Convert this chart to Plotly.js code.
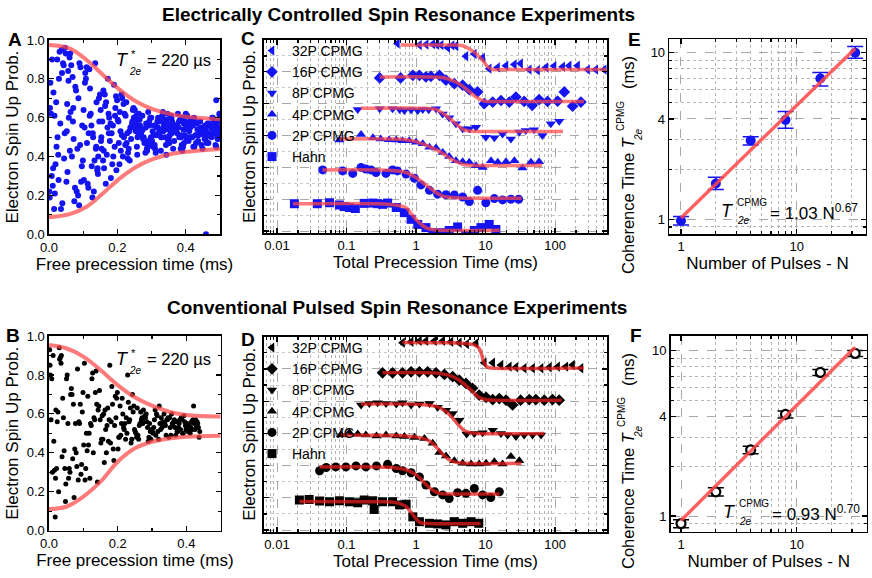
<!DOCTYPE html>
<html>
<head>
<meta charset="utf-8">
<script src="https://cdn.plot.ly/plotly-3.0.1.min.js"></script>
<style>
  html, body { margin: 0; padding: 0; background: #fff; }
  #chart { width: 872px; height: 578px; }
</style>
</head>
<body>
<div id="chart"></div>
<script>
// ---------- panel A: Ramsey data (electrical control) ----------
var aTime = [0.031,0.003,0.044,0.017,0.009,0.038,0.022,0.002,0.047,0.013,0.028,0.035,0.006,0.041,0.019,0.025,0.011,0.049,0.004,0.033,0.015,0.027,0.043,0.008,0.021,0.037,0.001,0.046,0.029,0.012,0.039,0.024,0.016,
  0.083,0.056,0.094,0.071,0.062,0.088,0.052,0.077,0.099,0.065,0.081,0.058,0.091,0.069,0.054,0.086,0.074,0.060,0.097,0.067,0.079,0.051,0.092,0.072,0.063,0.085,0.057,0.096,0.070,0.089,0.061,0.076,0.053,
  0.118,0.141,0.104,0.127,0.149,0.111,0.135,0.102,0.122,0.144,0.108,0.131,0.116,0.139,0.125,0.106,0.147,0.113,0.137,0.120,0.101,0.143,0.129,0.110,0.133,0.146,0.115,0.124,0.105,0.138,0.119,0.142,0.128,
  0.163,0.181,0.152,0.194,0.172,0.158,0.187,0.166,0.199,0.154,0.176,0.190,0.161,0.183,0.151,0.169,0.196,0.178,0.156,0.185,0.164,0.192,0.171,0.159,0.188,0.174,0.153,0.197,0.167,0.180,0.160,0.193,0.175,
  0.214,0.236,0.203,0.227,0.245,0.209,0.231,0.218,0.249,0.206,0.224,0.240,0.212,0.233,0.201,0.229,0.247,0.216,0.238,0.221,0.204,0.243,0.226,0.210,0.235,0.248,0.219,0.230,0.207,0.241,0.223,0.244,0.213,
  0.263,0.289,0.252,0.277,0.296,0.258,0.284,0.269,0.251,0.292,0.274,0.260,0.287,0.266,0.298,0.255,0.280,0.271,0.293,0.257,0.283,0.262,0.290,0.275,0.253,0.286,0.268,0.299,0.259,0.279,0.294,0.265,0.282,0.254,0.273,0.291,0.261,
  0.317,0.342,0.303,0.329,0.346,0.310,0.336,0.321,0.301,0.344,0.325,0.312,0.338,0.306,0.331,0.348,0.315,0.340,0.323,0.304,0.334,0.319,0.347,0.308,0.327,0.341,0.313,0.333,0.300,0.345,0.322,0.309,0.337,0.318,0.328,0.343,0.311,
  0.368,0.391,0.352,0.379,0.397,0.360,0.385,0.371,0.350,0.394,0.375,0.357,0.388,0.364,0.381,0.398,0.355,0.390,0.373,0.353,0.383,0.366,0.396,0.359,0.377,0.392,0.362,0.386,0.351,0.395,0.370,0.358,0.387,0.374,0.363,0.393,0.380,
  0.419,0.443,0.404,0.430,0.447,0.411,0.437,0.422,0.401,0.445,0.426,0.408,0.440,0.415,0.432,0.449,0.406,0.441,0.424,0.402,0.434,0.417,0.446,0.410,0.428,0.442,0.413,0.436,0.400,0.448,0.421,0.409,0.438,0.425,0.414,0.444,0.431,
  0.468,0.493,0.452,0.479,0.497,0.461,0.486,0.459,0.450,0.495,0.475,0.457,0.489,0.464,0.481,0.499,0.455,0.491,0.473,0.453,0.483,0.466,0.496,0.460,0.477,0.492,0.463,0.487,0.451,0.494,0.471,0.458,0.488,0.474,0.465,0.498,0.480,0.456,0.489];
var aProb = [0.94,0.65,0.39,0.21,0.90,0.83,0.45,0.19,0.96,0.73,0.28,0.13,0.62,0.88,0.36,0.50,0.25,0.93,0.78,0.57,0.13,0.41,0.87,0.30,0.68,0.95,0.22,0.52,0.80,0.34,0.16,0.90,0.61,
  0.44,0.84,0.27,0.65,0.93,0.15,0.53,0.76,0.38,0.87,0.22,0.60,0.46,0.81,0.32,0.70,0.17,0.91,0.56,0.40,0.74,0.27,0.86,0.49,0.63,0.20,0.79,0.35,0.58,0.88,0.43,0.24,0.67,
  0.85,0.33,0.55,0.19,0.72,0.47,0.88,0.28,0.62,0.40,0.80,0.22,0.52,0.68,0.35,0.83,0.58,0.26,0.44,0.75,0.64,0.31,0.50,0.86,0.38,0.70,0.24,0.56,0.78,0.45,0.61,0.34,0.52,
  0.72,0.29,0.48,0.65,0.80,0.38,0.56,0.26,0.69,0.44,0.60,0.77,0.34,0.52,0.64,0.41,0.71,0.48,0.58,0.36,0.66,0.45,0.55,0.74,0.40,0.62,0.50,0.33,0.68,0.57,0.43,0.61,0.52,
  0.70,0.38,0.58,0.47,0.64,0.53,0.42,0.67,0.56,0.36,0.61,0.49,0.72,0.44,0.59,0.52,0.65,0.40,0.55,0.62,0.47,0.57,0.68,0.43,0.53,0.60,0.50,0.39,0.63,0.55,0.46,0.58,0.51,
  0.62,0.45,0.55,0.50,0.60,0.41,0.57,0.52,0.64,0.47,0.54,0.59,0.43,0.56,0.50,0.61,0.48,0.53,0.58,0.45,0.55,0.51,0.63,0.49,0.57,0.44,0.54,0.60,0.50,0.47,0.56,0.59,0.42,0.53,0.61,0.48,0.55,
  0.58,0.46,0.53,0.50,0.62,0.44,0.56,0.52,0.48,0.59,0.54,0.42,0.57,0.51,0.61,0.47,0.55,0.50,0.58,0.45,0.53,0.60,0.49,0.56,0.43,0.54,0.51,0.63,0.48,0.57,0.52,0.46,0.59,0.55,0.50,0.41,0.56,
  0.53,0.60,0.47,0.55,0.51,0.58,0.44,0.54,0.49,0.57,0.52,0.61,0.46,0.55,0.50,0.58,0.53,0.43,0.56,0.51,0.59,0.48,0.54,0.52,0.62,0.45,0.57,0.50,0.55,0.47,0.53,0.60,0.51,0.56,0.44,0.54,0.58,
  0.50,0.55,0.61,0.47,0.53,0.57,0.51,0.45,0.56,0.52,0.59,0.48,0.54,0.50,0.57,0.44,0.55,0.52,0.60,0.49,0.54,0.57,0.46,0.53,0.51,0.58,0.55,0.48,0.62,0.52,0.56,0.50,0.54,0.45,0.59,0.53,0.51,
  0.57,0.49,0.54,0.60,0.52,0.47,0.56,0.00,0.53,0.58,0.50,0.55,0.45,0.57,0.52,0.61,0.49,0.54,0.56,0.51,0.58,0.47,0.55,0.53,0.60,0.50,0.56,0.46,0.54,0.58,0.52,0.49,0.57,0.55,0.51,0.62,0.53,0.56,0.69];
var aFitTime = [0, 0.06, 0.11, 0.158, 0.207, 0.256, 0.305, 0.354, 0.403, 0.5];
var aUpper = [0.974, 0.957, 0.897, 0.82, 0.743, 0.682, 0.643, 0.619, 0.605, 0.592];
var aLower = [0.088, 0.104, 0.142, 0.211, 0.288, 0.348, 0.388, 0.412, 0.425, 0.439];

// ---------- panel B: Ramsey data (conventional) ----------
var bTime = [0.002,0.003,0.004,0.006,0.008,0.010,0.012,0.014,0.016,0.018,0.019,0.020,0.022,0.024,0.026,0.028,0.030,0.031,0.033,0.035,0.036,0.038,0.040,0.042,0.044,0.046,0.048,0.049,
  0.073,0.055,0.091,0.063,0.081,0.051,0.097,0.067,0.085,0.059,0.077,0.093,0.053,0.069,0.087,0.061,0.099,0.075,0.057,0.083,0.065,0.095,0.071,0.089,0.079,
  0.127,0.105,0.141,0.113,0.133,0.101,0.147,0.119,0.137,0.109,0.125,0.143,0.103,0.121,0.139,0.115,0.149,0.129,0.107,0.135,0.117,0.145,0.123,0.111,0.131,
  0.177,0.157,0.191,0.163,0.183,0.151,0.197,0.169,0.187,0.159,0.175,0.193,0.153,0.171,0.189,0.165,0.199,0.179,0.155,0.185,0.167,0.195,0.173,0.161,0.181,
  0.229,0.207,0.241,0.213,0.233,0.201,0.247,0.219,0.237,0.209,0.225,0.243,0.203,0.221,0.239,0.215,0.249,0.231,0.205,0.235,0.217,0.245,0.223,0.211,0.227,
  0.277,0.257,0.291,0.263,0.283,0.251,0.297,0.269,0.287,0.259,0.275,0.293,0.253,0.271,0.289,0.265,0.299,0.279,0.255,0.285,0.267,0.295,0.273,0.261,0.281,
  0.329,0.307,0.341,0.313,0.333,0.301,0.347,0.319,0.337,0.309,0.325,0.343,0.303,0.321,0.339,0.315,0.349,0.331,0.305,0.335,0.317,0.345,0.323,0.311,0.327,
  0.377,0.357,0.391,0.363,0.383,0.351,0.397,0.369,0.387,0.359,0.375,0.393,0.353,0.371,0.389,0.365,0.399,0.379,0.355,0.385,0.367,0.395,0.373,0.361,0.381,
  0.421,0.407,0.433,0.411,0.427,0.401,0.437,0.415,0.429,0.405,0.419,0.435,0.403,0.417,0.431,0.409,0.439,0.423,0.413,0.425];
var bProb = [0.93,0.85,0.80,0.57,0.78,0.30,0.90,0.46,0.31,0.07,0.27,0.62,0.32,0.56,0.61,0.20,0.94,0.88,0.89,0.86,0.90,0.38,0.68,0.58,0.41,0.32,0.15,0.24,
  0.17,0.55,0.65,0.70,0.33,0.78,0.61,0.70,0.26,0.32,0.55,0.29,0.80,0.37,0.56,0.30,0.71,0.42,0.27,0.83,0.73,0.34,0.65,0.55,0.40,
  0.81,0.26,0.25,0.69,0.57,0.44,0.72,0.27,0.82,0.50,0.78,0.62,0.86,0.55,0.65,0.44,0.57,0.40,0.32,0.71,0.50,0.64,0.54,0.41,0.58,
  0.85,0.47,0.54,0.62,0.74,0.45,0.68,0.54,0.42,0.60,0.57,0.69,0.47,0.63,0.36,0.52,0.71,0.45,0.59,0.65,0.40,0.58,0.46,0.35,0.56,
  0.80,0.64,0.47,0.68,0.56,0.42,0.64,0.52,0.63,0.49,0.58,0.70,0.48,0.55,0.45,0.60,0.52,0.66,0.48,0.57,0.53,0.61,0.47,0.55,0.50,
  0.56,0.63,0.48,0.54,0.60,0.51,0.47,0.57,0.53,0.49,0.62,0.55,0.50,0.58,0.46,0.55,0.52,0.59,0.48,0.56,0.61,0.51,0.55,0.47,0.58,
  0.53,0.57,0.49,0.60,0.54,0.51,0.58,0.47,0.55,0.62,0.52,0.57,0.50,0.64,0.54,0.59,0.48,0.56,0.53,0.60,0.51,0.57,0.55,0.49,0.58,
  0.53,0.60,0.50,0.56,0.52,0.58,0.54,0.49,0.57,0.55,0.51,0.59,0.53,0.56,0.50,0.57,0.52,0.55,0.49,0.58,0.53,0.56,0.51,0.54,0.57,
  0.64,0.52,0.55,0.50,0.57,0.53,0.48,0.56,0.54,0.51,0.57,0.53,0.55,0.52,0.56,0.54,0.51,0.55,0.53,0.52];
var bFitTime = [0, 0.05, 0.1, 0.15, 0.2, 0.25, 0.3, 0.35, 0.4, 0.5];
var bUpper = [0.954, 0.937, 0.894, 0.825, 0.748, 0.685, 0.642, 0.611, 0.594, 0.586];
var bLower = [0.111, 0.123, 0.175, 0.252, 0.354, 0.423, 0.457, 0.474, 0.483, 0.488];

// ---------- panel C: CPMG decays (electrical), offset vertically ----------
var cNames = ['32P CPMG', '16P CPMG', '8P CPMG', '4P CPMG', '2P CPMG', 'Hahn'];
var cSymbols = ['triangle-left', 'diamond', 'triangle-down', 'triangle-up', 'circle', 'square'];
var c32T = [0.54,1.12,1.4,1.74,2.0,2.3,2.86,3.3,3.76,5.23,6.9,9.1,11.3,14.9,19.7,26,32,42.6,56,74,97,129,160,211,294,386,510];
var c32Y = [5.89,5.84,5.86,5.87,5.85,5.84,5.76,5.83,5.81,5.49,5.56,5.44,5.1,5.14,5.19,5.23,5.26,5.07,5.05,5.14,5.18,5.16,5.19,5.19,5.07,5.07,5.07];
var c16T = [0.3,0.6,0.9,1.12,1.39,1.64,2.17,2.7,3.56,4.69,5.85,7.7,9.6,12.7,16.7,22,27.4,36,47,59,78,109,136,179,236];
var c16Y = [4.81,4.81,4.89,4.89,4.84,4.86,4.89,4.74,4.63,4.58,4.44,4.37,4.0,4.05,4.1,4.05,4.21,4.07,3.95,4.13,4.07,4.08,4.37,3.92,4.05];
var c8T = [0.145,0.3,0.46,0.58,0.68,0.85,1.06,1.25,1.52,1.94,2.42,3.0,3.76,4.69,5.85,7.3,10.1,13.4,17.6,23.2,30.6,38,50,66,87,115];
var c8Y = [3.82,3.84,3.84,3.82,3.79,3.81,3.79,3.82,3.81,3.84,3.68,3.56,3.37,3.21,3.21,3.26,2.95,2.93,3.05,2.89,3.11,3.16,3.18,3.0,3.37,3.45];
var c4T = [0.079,0.162,0.24,0.31,0.41,0.52,0.64,0.8,1.0,1.25,1.56,1.94,2.42,3.0,3.76,4.69,5.85,7.3,9.1,12,15,19.7,26,34,45,59];
var c4Y = [2.86,3.03,2.93,2.89,2.87,2.86,2.84,2.84,2.79,2.74,2.63,2.61,2.47,2.34,2.21,2.18,2.16,2.05,2.0,2.21,2.16,2.18,2.21,1.98,2.16,2.18];
var c2T = [0.0455,0.088,0.123,0.162,0.19,0.225,0.266,0.37,0.46,0.54,0.72,0.95,1.18,1.56,2.05,2.7,3.56,4.7,5.85,7.7,10.1,13.4,17.6,23.2,30];
var c2Y = [1.92,1.89,1.81,2.0,1.95,1.92,1.84,1.81,1.92,1.89,1.79,1.66,1.45,1.28,1.16,1.14,1.13,1.07,0.93,1.28,0.89,1.02,0.98,1.0,1.0];
var cHahnT = [0.0178,0.038,0.057,0.079,0.093,0.11,0.134,0.18,0.24,0.28,0.33,0.39,0.52,0.68,0.85,1.06,1.39,1.74,2.29,3.0,3.97,5.2,6.9,8.6,11.3,14.1];
var cHahnY = [0.86,0.86,0.89,0.82,0.77,0.74,0.71,0.87,0.88,0.86,0.84,0.88,0.74,0.58,0.37,0.21,0.11,-0.05,-0.05,0.02,0.13,-0.13,0.02,0.11,0.21,0.05];
// fitted curves
var cFit32T = [0.6,3,4.69,6.5,8.6,10.8,12.7,16,550];
var cFit32Y = [5.84,5.84,5.82,5.66,5.42,5.16,5.07,5.07,5.07];
var cFit16T = [0.3,1.5,2.42,3.76,5.23,7.3,9.6,12,260];
var cFit16Y = [4.84,4.84,4.82,4.68,4.47,4.21,4.08,4.07,4.07];
var cFit8T = [0.16,1.2,1.94,2.7,3.76,4.69,5.85,8,130];
var cFit8Y = [3.86,3.86,3.82,3.63,3.37,3.2,3.14,3.13,3.13];
var cFit4T = [0.08,0.6,1.0,1.56,2.42,3.37,4.69,6,65];
var cFit4Y = [2.89,2.88,2.81,2.65,2.44,2.23,2.1,2.07,2.07];
var cFit2T = [0.045,0.4,0.72,1.0,1.39,1.94,2.42,3.76,33];
var cFit2Y = [1.92,1.91,1.84,1.68,1.45,1.21,1.1,1.05,1.03];
var cFitHahnT = [0.017,0.3,0.5,0.72,0.85,1.0,1.2,1.4,1.8,16];
var cFitHahnY = [0.86,0.86,0.82,0.74,0.55,0.37,0.2,0.1,0.04,0.03];

// ---------- panel D: CPMG decays (conventional) ----------
var d32T = [0.64,0.85,1.12,1.39,1.84,2.42,3.18,4.2,5.35,7.3,9.6,12.7,16.7,22,27.4,36,47.5,63,83,109,143,179,236];
var d32Y = [5.81,5.84,5.87,5.87,5.87,5.87,5.84,5.81,5.77,5.79,5.19,5.19,5.12,5.07,5.05,5.02,5.02,5.02,5.05,5.07,5.07,5.12,5.02];
var d16T = [0.33,0.46,0.64,0.85,1.12,1.47,1.94,2.56,3.37,4.2,5.23,6.5,8.1,10.2,12.7,15.8,19.7,24.5,32,42.6,53,70,92,115];
var d16Y = [4.88,4.88,4.88,4.91,4.91,4.91,4.88,4.83,4.76,4.65,4.55,4.4,4.19,4.12,4.05,4.08,4.03,3.88,4.03,4.05,4.05,4.03,4.05,4.03];
var d8T = [0.162,0.213,0.28,0.37,0.52,0.64,0.85,1.12,1.56,2.05,2.7,3.37,4.2,5.35,6.9,9.1,12.7,16.7,20.8,27.4,36,47.5,63];
var d8Y = [3.88,3.93,3.95,3.93,3.91,3.95,3.88,3.91,3.93,3.81,3.72,3.62,3.41,2.98,3.0,3.02,3.1,3.0,2.95,2.9,2.95,2.95,2.95];
var d4T = [0.083,0.11,0.145,0.19,0.27,0.37,0.52,0.68,0.95,1.32,1.74,2.17,2.7,3.56,4.69,6.2,8.1,10.2,13.4,17.6,23.2,30.6];
var d4Y = [2.95,3.02,2.98,2.95,2.92,2.95,2.92,2.9,2.87,2.84,2.69,2.41,2.3,2.15,2.07,2.05,2.05,2.07,2.12,2.05,2.28,2.15];
var d2T = [0.041,0.051,0.07,0.098,0.137,0.19,0.27,0.39,0.52,0.64,0.85,1.12,1.39,1.84,2.42,3.0,3.97,5.23,6.9,9.1,11.9,15.8];
var d2Y = [1.84,1.94,1.96,1.96,1.99,1.96,1.99,2.04,1.91,1.84,1.78,1.65,1.4,1.19,1.09,0.98,1.16,1.14,1.29,1.09,1.01,1.19];
var dHahnT = [0.021,0.029,0.041,0.057,0.079,0.11,0.145,0.18,0.238,0.25,0.33,0.46,0.58,0.72,0.9,1.12,1.56,2.05,2.7,3.56,4.69,6.2,8];
var dHahnY = [0.93,0.95,0.9,0.88,0.91,0.88,0.85,0.93,0.91,0.64,0.88,0.88,0.78,0.8,0.41,0.26,0.21,0.19,0.16,0.26,0.21,0.26,0.21];
var dFit32T = [0.64,3.0,5.0,7.0,8.0,8.8,9.5,10.5,12,260];
var dFit32Y = [5.82,5.81,5.79,5.74,5.65,5.45,5.2,5.06,5.03,5.03];
var dFit16T = [0.33,2.0,3.0,4.0,5.0,6.5,8.0,10,13,125];
var dFit16Y = [4.88,4.87,4.8,4.68,4.52,4.3,4.12,4.05,4.03,4.03];
var dFit8T = [0.162,1.2,2.0,2.7,3.3,4.0,5.0,6.5,70];
var dFit8Y = [3.91,3.9,3.83,3.68,3.5,3.28,3.08,3.01,3.0];
var dFit4T = [0.083,0.7,1.2,1.6,2.0,2.5,3.2,4.5,33];
var dFit4Y = [2.95,2.92,2.86,2.75,2.55,2.32,2.15,2.08,2.07];
var dFit2T = [0.041,0.4,0.7,1.0,1.3,1.7,2.2,3,16];
var dFit2Y = [1.96,1.95,1.88,1.72,1.48,1.25,1.14,1.12,1.12];
var dFitHahnT = [0.021,0.3,0.5,0.7,0.85,1.0,1.15,1.5,8.5];
var dFitHahnY = [0.89,0.88,0.86,0.75,0.55,0.35,0.23,0.2,0.2];

// ---------- panels E, F: coherence time vs number of pulses ----------
var pulses = [1, 2, 4, 8, 16, 32];
var eT2 = [0.98, 1.64, 2.97, 3.94, 7.0, 10.0];
var eErrPlus = [0.06, 0.15, 0.16, 0.49, 0.59, 0.87];
var eErrMinus = [0.055, 0.13, 0.18, 0.42, 0.69, 0.75];
var eFitN = [1, 32];
var eFitT2 = [1.02, 10.6];
var fT2 = [0.90, 1.40, 2.51, 4.12, 7.39, 9.63];
var fErr = [0.05, 0.08, 0.13, 0.2, 0.3, 0.4];
var fFitN = [1, 32];
var fFitT2 = [0.94, 10.5];

// ---------- helpers ----------
var W = 872, H = 578;
function px(x) { return x / W; }
function py(y) { return 1 - y / H; }
var FONT = 'Liberation Sans, Arial, Helvetica, sans-serif';
var BLUE = '#1414f0';
var RED = 'rgba(255,70,70,0.72)';

// minor ticks for log axes (2..9 in each decade)
function logMinor(lo, hi) {
  var v = [];
  for (var e = lo; e <= hi; e++) {
    for (var k = 2; k <= 9; k++) v.push(k * Math.pow(10, e));
  }
  return v;
}

function axis(extra) {
  var base = {
    showline: true, linecolor: 'black', linewidth: 1.6, mirror: 'allticks',
    ticks: 'inside', ticklen: 5, tickwidth: 1.2, tickcolor: 'black',
    showgrid: false, zeroline: false,
    tickfont: {family: FONT, size: 13, color: 'black'}
  };
  for (var k in extra) base[k] = extra[k];
  return base;
}
function ttl(text, size, standoff) {
  return {text: text, font: {family: FONT, size: size, color: 'black'}, standoff: standoff};
}

var data = [];

// A
data.push({x: aTime, y: aProb, xaxis: 'x', yaxis: 'y', mode: 'markers', type: 'scatter', showlegend: false,
  marker: {color: BLUE, size: 6}});
data.push({x: aFitTime, y: aUpper, xaxis: 'x', yaxis: 'y', mode: 'lines', showlegend: false,
  line: {color: RED, width: 4, shape: 'spline'}});
data.push({x: aFitTime, y: aLower, xaxis: 'x', yaxis: 'y', mode: 'lines', showlegend: false,
  line: {color: RED, width: 4, shape: 'spline'}});

// B
data.push({x: bTime, y: bProb, xaxis: 'x4', yaxis: 'y4', mode: 'markers', showlegend: false,
  marker: {color: 'black', size: 5}});
data.push({x: bFitTime, y: bUpper, xaxis: 'x4', yaxis: 'y4', mode: 'lines', showlegend: false,
  line: {color: RED, width: 4, shape: 'spline'}});
data.push({x: bFitTime, y: bLower, xaxis: 'x4', yaxis: 'y4', mode: 'lines', showlegend: false,
  line: {color: RED, width: 4, shape: 'spline'}});

// C and D
var cPts = [[c32T, c32Y], [c16T, c16Y], [c8T, c8Y], [c4T, c4Y], [c2T, c2Y], [cHahnT, cHahnY]];
var cFits = [[cFit32T, cFit32Y], [cFit16T, cFit16Y], [cFit8T, cFit8Y], [cFit4T, cFit4Y], [cFit2T, cFit2Y], [cFitHahnT, cFitHahnY]];
var dPts = [[d32T, d32Y], [d16T, d16Y], [d8T, d8Y], [d4T, d4Y], [d2T, d2Y], [dHahnT, dHahnY]];
var dFits = [[dFit32T, dFit32Y], [dFit16T, dFit16Y], [dFit8T, dFit8Y], [dFit4T, dFit4Y], [dFit2T, dFit2Y], [dFitHahnT, dFitHahnY]];

for (var i = 0; i < cNames.length; i++) {
  data.push({x: cPts[i][0], y: cPts[i][1], xaxis: 'x2', yaxis: 'y2', mode: 'markers', name: cNames[i],
    legend: 'legend', marker: {color: BLUE, symbol: cSymbols[i], size: 9}});
}
for (var i = 0; i < cNames.length; i++) {
  data.push({x: cFits[i][0], y: cFits[i][1], xaxis: 'x2', yaxis: 'y2', mode: 'lines', showlegend: false,
    line: {color: RED, width: 3.5, shape: 'spline', smoothing: 0.8}});
}
for (var i = 0; i < cNames.length; i++) {
  data.push({x: dPts[i][0], y: dPts[i][1], xaxis: 'x5', yaxis: 'y5', mode: 'markers', name: cNames[i],
    legend: 'legend2', marker: {color: 'black', symbol: cSymbols[i], size: 9}});
}
for (var i = 0; i < cNames.length; i++) {
  data.push({x: dFits[i][0], y: dFits[i][1], xaxis: 'x5', yaxis: 'y5', mode: 'lines', showlegend: false,
    line: {color: 'rgba(230,30,30,0.75)', width: 3.5, shape: 'spline', smoothing: 0.8}});
}

// E
data.push({x: pulses, y: eT2, xaxis: 'x3', yaxis: 'y3', mode: 'markers', showlegend: false,
  marker: {color: BLUE, size: 10},
  error_y: {type: 'data', array: eErrPlus, arrayminus: eErrMinus, color: BLUE, thickness: 1.5, width: 8}});
data.push({x: eFitN, y: eFitT2, xaxis: 'x3', yaxis: 'y3', mode: 'lines', showlegend: false,
  line: {color: 'rgba(255,70,70,0.85)', width: 3.5}});

// F
data.push({x: pulses, y: fT2, xaxis: 'x6', yaxis: 'y6', mode: 'markers', showlegend: false,
  marker: {color: 'white', size: 9, line: {color: 'black', width: 2.2}},
  error_y: {type: 'data', array: fErr, color: 'black', thickness: 1.5, width: 8}});
data.push({x: fFitN, y: fFitT2, xaxis: 'x6', yaxis: 'y6', mode: 'lines', showlegend: false,
  line: {color: 'rgba(255,70,70,0.85)', width: 3.5}});

// grids for log panels
var minorGrid = {ticks: 'inside', ticklen: 3, tickcolor: 'black', showgrid: true, gridcolor: '#b5b5b5', griddash: 'dot', gridwidth: 1};
function withVals(o, vals) { var r = {tickmode: 'array', tickvals: vals}; for (var k in o) r[k] = o[k]; return r; }

var decadeVals = [0.01, 0.1, 1, 10, 100];
var decadeText = ['0.01', '0.1', '1', '10', '100'];

var layout = {
  width: W, height: H,
  margin: {l: 0, r: 0, t: 0, b: 0},
  paper_bgcolor: 'white', plot_bgcolor: 'white',
  font: {family: FONT, color: 'black'},
  // A
  xaxis: axis({domain: [px(49), px(220)], anchor: 'y', range: [0, 0.5], tickvals: [0, 0.2, 0.4], ticktext: ['0.0', '0.2', '0.4'],
    minor: {dtick: 0.1, ticks: 'inside', ticklen: 3, tickcolor: 'black'},
    title: ttl('Free precession time (ms)', 17, 4)}),
  yaxis: axis({domain: [py(234.3), py(40)], anchor: 'x', range: [0, 1], dtick: 0.2, tickformat: '.1f',
    minor: {dtick: 0.1, ticks: 'inside', ticklen: 3, tickcolor: 'black'},
    title: ttl('Electron Spin Up Prob.', 17, 4)}),
  // C
  xaxis2: axis({domain: [px(264), px(607)], anchor: 'y2', type: 'log', range: [-2.187, 2.748],
    tickvals: decadeVals, ticktext: decadeText,
    showgrid: true, gridcolor: '#a8a8a8', griddash: 'dash',
    minor: withVals(minorGrid, logMinor(-3, 2)),
    title: ttl('Total Precession Time (ms)', 17, 4)}),
  yaxis2: axis({domain: [py(233), py(40)], anchor: 'x2', range: [-0.06, 6], dtick: 1, showticklabels: false,
    showgrid: true, gridcolor: '#a8a8a8', griddash: 'dash',
    minor: {dtick: 0.5, ticks: 'inside', ticklen: 3, tickcolor: 'black', showgrid: true, gridcolor: '#c8c8c8', griddash: 'dot'},
    title: ttl('Electron Spin Up Prob.', 17, 2)}),
  // E
  xaxis3: axis({domain: [px(669.3), px(865.7)], anchor: 'y3', type: 'log', range: [-0.101, 1.596],
    tickvals: [1, 10], ticktext: ['1', '10'],
    showgrid: true, gridcolor: '#a8a8a8', griddash: 'dash',
    minor: withVals(minorGrid, [2, 3, 4, 5, 6, 7, 8, 9, 20, 30]),
    title: ttl('Number of Pulses - N', 17, 4)}),
  yaxis3: axis({domain: [py(234), py(39.3)], anchor: 'x3', type: 'log', range: [-0.088, 1.08],
    tickvals: [1, 4, 10], ticktext: ['1', '4', '10'],
    showgrid: true, gridcolor: '#a8a8a8', griddash: 'dash',
    minor: withVals(minorGrid, [0.9, 2, 3, 5, 6, 7, 8, 9])}),
  // B
  xaxis4: axis({domain: [px(49), px(220.7)], anchor: 'y4', range: [0, 0.5], tickvals: [0, 0.2, 0.4], ticktext: ['0.0', '0.2', '0.4'],
    minor: {dtick: 0.1, ticks: 'inside', ticklen: 3, tickcolor: 'black'},
    title: ttl('Free precession time (ms)', 17, 4)}),
  yaxis4: axis({domain: [py(530.7), py(336)], anchor: 'x4', range: [0, 1], dtick: 0.2, tickformat: '.1f',
    minor: {dtick: 0.1, ticks: 'inside', ticklen: 3, tickcolor: 'black'},
    title: ttl('Electron Spin Up Prob.', 17, 4)}),
  // D
  xaxis5: axis({domain: [px(264), px(607)], anchor: 'y5', type: 'log', range: [-2.187, 2.748],
    tickvals: decadeVals, ticktext: decadeText,
    showgrid: true, gridcolor: '#a8a8a8', griddash: 'dash',
    minor: withVals(minorGrid, logMinor(-3, 2)),
    title: ttl('Total Precession Time (ms)', 17, 4)}),
  yaxis5: axis({domain: [py(532), py(336.7)], anchor: 'x5', range: [-0.06, 6], dtick: 1, showticklabels: false,
    showgrid: true, gridcolor: '#a8a8a8', griddash: 'dash',
    minor: {dtick: 0.5, ticks: 'inside', ticklen: 3, tickcolor: 'black', showgrid: true, gridcolor: '#c8c8c8', griddash: 'dot'},
    title: ttl('Electron Spin Up Prob.', 17, 2)}),
  // F
  xaxis6: axis({domain: [px(670.7), px(866.7)], anchor: 'y6', type: 'log', range: [-0.089, 1.605],
    tickvals: [1, 10], ticktext: ['1', '10'],
    showgrid: true, gridcolor: '#a8a8a8', griddash: 'dash',
    minor: withVals(minorGrid, [2, 3, 4, 5, 6, 7, 8, 9, 20, 30]),
    title: ttl('Number of Pulses - N', 17, 4)}),
  yaxis6: axis({domain: [py(531.7), py(336)], anchor: 'x6', type: 'log', range: [-0.095, 1.089],
    tickvals: [1, 4, 10], ticktext: ['1', '4', '10'],
    showgrid: true, gridcolor: '#a8a8a8', griddash: 'dash',
    minor: withVals(minorGrid, [0.9, 2, 3, 5, 6, 7, 8, 9])}),
  legend: {x: px(252), y: py(35), xanchor: 'left', yanchor: 'top', bgcolor: 'rgba(0,0,0,0)',
    font: {family: FONT, size: 14, color: 'black'}, itemwidth: 30, tracegroupgap: 0},
  legend2: {x: px(252), y: py(332), xanchor: 'left', yanchor: 'top', bgcolor: 'rgba(0,0,0,0)',
    font: {family: FONT, size: 14, color: 'black'}, itemwidth: 30, tracegroupgap: 0},
  annotations: []
};

function note(x, y, text, size, anchor, angle) {
  layout.annotations.push({xref: 'paper', yref: 'paper', x: px(x), y: py(y), text: text, showarrow: false,
    xanchor: anchor || 'center', yanchor: 'middle', textangle: angle || 0,
    font: {family: FONT, size: size, color: 'black'}});
}

// headings and panel letters
note(398, 14, '<b>Electrically Controlled Spin Resonance Experiments</b>', 19);
note(397, 308, '<b>Conventional Pulsed Spin Resonance Experiments</b>', 19);
note(15, 39, '<b>A</b>', 19); note(248, 38, '<b>C</b>', 19); note(634, 39, '<b>E</b>', 19);
note(13, 335, '<b>B</b>', 19); note(248, 339, '<b>D</b>', 19); note(636, 335, '<b>F</b>', 19);

// T2e* labels
note(122, 60, '<i>T</i>', 18); note(133, 54, '*', 11); note(135, 71, '<i>2e</i>', 10);
note(145, 60, '= 220 µs', 16.5, 'left');
note(122, 359, '<i>T</i>', 18); note(133, 353, '*', 11); note(135, 370, '<i>2e</i>', 10);
note(145, 359, '= 220 µs', 16.5, 'left');

// fit formulas in E and F
note(727, 211, '<i>T</i>', 18); note(735, 202, 'CPMG', 10, 'left'); note(735, 220, '<i>2e</i>', 10, 'left');
note(768, 212, '= 1.03 N<sup>0.67</sup>', 17, 'left');
note(729, 512, '<i>T</i>', 18); note(737, 503, 'CPMG', 10, 'left'); note(737, 521, '<i>2e</i>', 10, 'left');
note(770, 513, '= 0.93 N<sup>0.70</sup>', 17, 'left');

// rotated y titles for E and F (stacked sub/superscript)
note(628, 205, 'Coherence Time <i>T</i>', 16.5, 'center', -90);
note(621, 116, 'CPMG', 10, 'center', -90);
note(638, 135, '<i>2e</i>', 10, 'center', -90);
note(628, 73, '(ms)', 16.5, 'center', -90);
note(628, 500, 'Coherence Time <i>T</i>', 16.5, 'center', -90);
note(621, 412, 'CPMG', 10, 'center', -90);
note(638, 432, '<i>2e</i>', 10, 'center', -90);
note(628, 370, '(ms)', 16.5, 'center', -90);

Plotly.newPlot('chart', data, layout, {displayModeBar: false, staticPlot: true});
</script>
</body>
</html>
